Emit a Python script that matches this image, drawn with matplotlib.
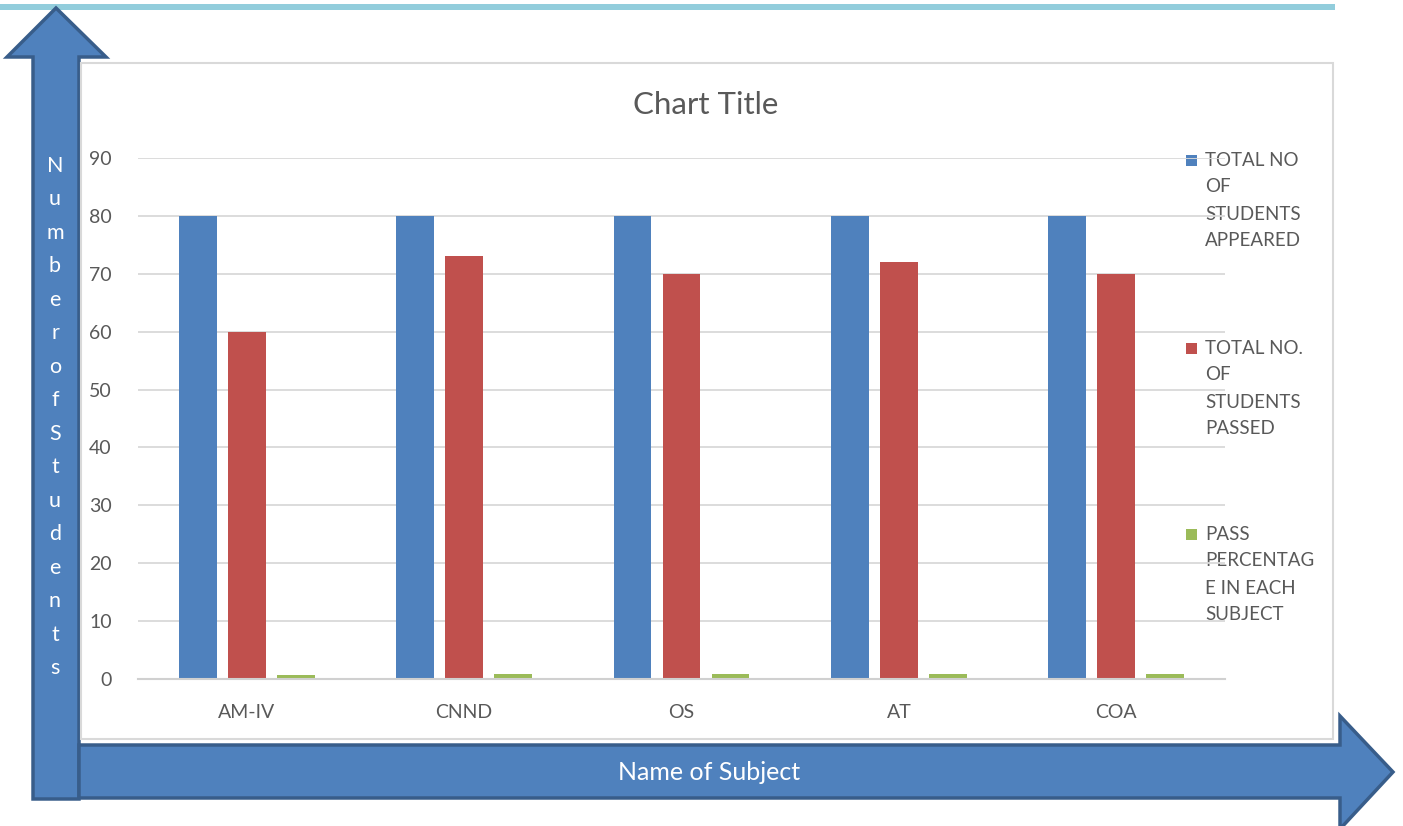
import matplotlib
matplotlib.use("Agg")
import matplotlib.pyplot as plt
import numpy as np
from matplotlib.patches import Polygon, Rectangle

categories = ["AM-IV", "CNND", "OS", "AT", "COA"]
appeared = [80, 80, 80, 80, 80]
passed = [60, 73, 70, 72, 70]
pass_pct = [0.75, 0.91, 0.875, 0.9, 0.875]
series_labels = ["TOTAL NO\nOF\nSTUDENTS\nAPPEARED",
                 "TOTAL NO.\nOF\nSTUDENTS\nPASSED",
                 "PASS\nPERCENTAG\nE IN EACH\nSUBJECT"]
colors = ["#4F81BD", "#C0504D", "#9BBB59"]
yticks = list(range(0, 100, 10))
title = "Chart Title"
xlabel = "Name of Subject"
ylabel = "NumberofStudents"

plt.rcParams['font.family'] = ['Lato', 'DejaVu Sans']

W, H = 1403, 826
fig = plt.figure(figsize=(W / 100, H / 100), dpi=100)

# background drawing layer in pixel coordinates
bg = fig.add_axes([0, 0, 1, 1], zorder=0)
bg.set_xlim(0, W)
bg.set_ylim(H, 0)
bg.axis("off")

arrow_face = "#4F81BD"
arrow_edge = "#385D8A"

# top teal line
bg.add_patch(Rectangle((0, 4), 1335, 6, facecolor="#92CDDC", edgecolor="none"))

# vertical arrow
vert = [(33, 799), (33, 57), (7, 57), (56, 8), (106, 57), (79, 57), (79, 799)]
bg.add_patch(Polygon(vert, closed=True, facecolor=arrow_face, edgecolor=arrow_edge, lw=2.5, joinstyle="miter"))

# horizontal arrow
horiz = [(79, 745), (1340, 745), (1340, 716), (1393, 772), (1340, 829), (1340, 798), (79, 798)]
bg.add_patch(Polygon(horiz, closed=True, facecolor=arrow_face, edgecolor=arrow_edge, lw=2.5, joinstyle="miter"))

# chart box
bg.add_patch(Rectangle((81, 63), 1252, 676, facecolor="white", edgecolor="#D9D9D9", lw=1.5))

# axis titles on arrows
bg.text(709, 772, xlabel, color="white", fontsize=18, ha="center", va="center")
n = len(ylabel)
y0, y1 = 166, 668
for i, ch in enumerate(ylabel):
    bg.text(55, y0 + (y1 - y0) * i / (n - 1), ch, color="white", fontsize=15.5, ha="center", va="center")

# title
bg.text(706, 105, title, color="#595959", fontsize=22.5, ha="center", va="center")

# main chart axes
left, right = 138 / W, 1225 / W
bottom, top = 1 - 679 / H, 1 - 158 / H
ax = fig.add_axes([left, bottom, right - left, top - bottom], zorder=1)
ax.patch.set_alpha(0)

x = np.arange(len(categories))
bw = 0.174
off = 0.225
series = [appeared, passed, pass_pct]
for k, (vals, c) in enumerate(zip(series, colors)):
    ax.bar(x + (k - 1) * off, vals, width=bw, color=c, zorder=3)

ax.set_xlim(-0.5, len(categories) - 0.5)
ax.set_ylim(0, 90)
ax.set_yticks(yticks)
ax.set_yticklabels([str(t) for t in yticks])
ax.set_xticks(x)
ax.set_xticklabels(categories)
ax.grid(axis="y", color="#D9D9D9", lw=1.3, zorder=0)
for s in ["top", "right", "left"]:
    ax.spines[s].set_visible(False)
ax.spines["bottom"].set_color("#D0D0D0")
ax.spines["bottom"].set_linewidth(1.5)
ax.spines["bottom"].set_zorder(4)
ax.tick_params(axis="both", length=0, colors="#595959", labelsize=14)
ax.tick_params(axis="y", pad=19)
ax.tick_params(axis="x", pad=18)

# legend (manual)
entry_tops = [160, 348, 534]
for lbl, c, yt in zip(series_labels, colors, entry_tops):
    bg.add_patch(Rectangle((1186, yt - 5.5), 11, 11, facecolor=c, edgecolor="none"))
    for j, line in enumerate(lbl.split("\n")):
        bg.text(1205, yt + 27 * j, line, color="#595959", fontsize=13.5, ha="left", va="center")

fig.savefig("out.png", dpi=100)
